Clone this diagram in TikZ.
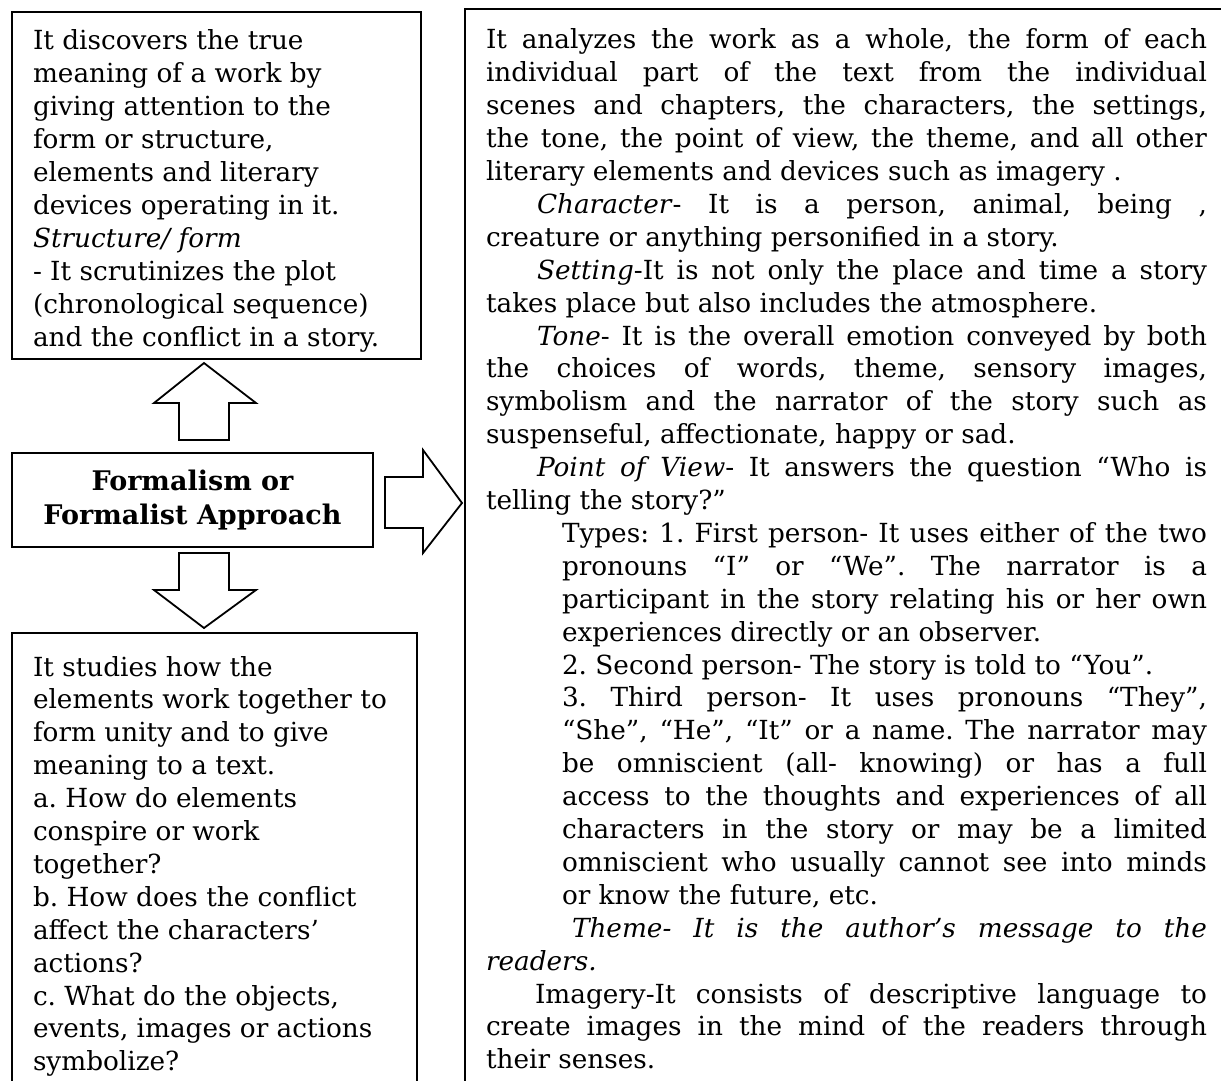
\documentclass[tikz,border=0pt]{standalone}
\usepackage{fontspec}
\setmainfont{DejaVu Serif}
\frenchspacing
\newcommand\bodyfont{\fontsize{26.3}{32.9}\selectfont}
\newcommand\rnat[2]{\hbox{\hskip#1pt #2}}
\newcommand\rjus[2]{\hbox to 721pt{\hskip#1pt #2}}
\newcommand\lnat[1]{\hbox{#1}}
\begin{document}
\begin{tikzpicture}[x=1pt,y=-1pt]
\tikzset{
  boxline/.style={line width=1.8pt, line join=miter},
  blockarrow/.style={line width=1.8pt, line join=miter},
  txt/.style={anchor=base west, inner sep=0pt, outer sep=0pt, font=\bodyfont}
}
\useasboundingbox (0,0) rectangle (1221,1081);
\clip (0,0) rectangle (1221,1081);
\fill[white] (0,0) rectangle (1221,1081);

% top-left box
\draw[boxline] (12,12) rectangle (421,359);
\node[txt] (toptext) at (33,50) {\vtop{\bodyfont
\lnat{It discovers the true}
\lnat{meaning of a work by}
\lnat{giving attention to the}
\lnat{form or structure,}
\lnat{elements and literary}
\lnat{devices operating in it.}
\lnat{\textit{Structure/ form}}
\lnat{- It scrutinizes the plot}
\lnat{(chronological sequence)}
\lnat{and the conflict in a story.}}};

% central box
\draw[boxline] (12,453) rectangle (373,547);
\node[txt] (center) at (12,490) {\vtop{\fontsize{27}{34}\selectfont\bfseries
\hbox to 361pt{\hfil Formalism or\hfil}
\hbox to 361pt{\hfil Formalist Approach\hfil}}};

% bottom-left box
\draw[boxline] (12,1090) -- (12,633) -- (417,633) -- (417,1090);
\node[txt] (bottext) at (33,676) {\vtop{\bodyfont
\lnat{It studies how the}
\lnat{elements work together to}
\lnat{form unity and to give}
\lnat{meaning to a text.}
\lnat{a. How do elements}
\lnat{conspire or work}
\lnat{together?}
\lnat{b. How does the conflict}
\lnat{affect the characters'}
\lnat{actions?}
\lnat{c. What do the objects,}
\lnat{events, images or actions}
\lnat{symbolize?}}};

% right box
\draw[boxline] (1230,9) -- (465,9) -- (465,1090);
\node[txt] (righttext) at (486,49) {\vtop{\bodyfont
\rjus{0}{It analyzes the work as a whole, the form of each}
\rjus{0}{individual part of the text from the individual}
\rjus{0}{scenes and chapters, the characters, the settings,}
\rjus{0}{the tone, the point of view, the theme, and all other}
\rnat{0}{literary elements and devices such as imagery .}
\rjus{51}{\textit{Character}- It is a person, animal, being ,}
\rnat{0}{creature or anything personified in a story.}
\rjus{51}{\textit{Setting}-It is not only the place and time a story}
\rnat{0}{takes place but also includes the atmosphere.}
\rjus{51}{\textit{Tone}- It is the overall emotion conveyed by both}
\rjus{0}{the choices of words, theme, sensory images,}
\rjus{0}{symbolism and the narrator of the story such as}
\rnat{0}{suspenseful, affectionate, happy or sad.}
\rjus{51}{\textit{Point of View}- It answers the question ``Who is}
\rnat{0}{telling the story?''}
\rjus{76}{Types: 1. First person- It uses either of the two}
\rjus{76}{pronouns ``I'' or ``We''. The narrator is a}
\rjus{76}{participant in the story relating his or her own}
\rnat{76}{experiences directly or an observer.}
\rnat{76}{2. Second person- The story is told to ``You''.}
\rjus{76}{3. Third person- It uses pronouns ``They'',}
\rjus{76}{``She'', ``He'', ``It'' or a name. The narrator may}
\rjus{76}{be omniscient (all- knowing) or has a full}
\rjus{76}{access to the thoughts and experiences of all}
\rjus{76}{characters in the story or may be a limited}
\rjus{76}{omniscient who usually cannot see into minds}
\rnat{76}{or know the future, etc.}
\rjus{86}{\itshape Theme- It is the author's message to the}
\rnat{0}{\itshape readers.}
\rjus{49}{Imagery-It consists of descriptive language to}
\rjus{0}{create images in the mind of the readers through}
\rnat{0}{their senses.}}};

% block arrows
\draw[blockarrow] (204,363) -- (256,403) -- (229,403) -- (229,440) -- (179,440) -- (179,403) -- (154,403) -- cycle;
\draw[blockarrow] (204,628) -- (256,590) -- (229,590) -- (229,553) -- (179,553) -- (179,590) -- (154,590) -- cycle;
\draw[blockarrow] (462,503) -- (423,450) -- (423,477) -- (385,477) -- (385,528) -- (423,528) -- (423,553) -- cycle;
\end{tikzpicture}
\end{document}
